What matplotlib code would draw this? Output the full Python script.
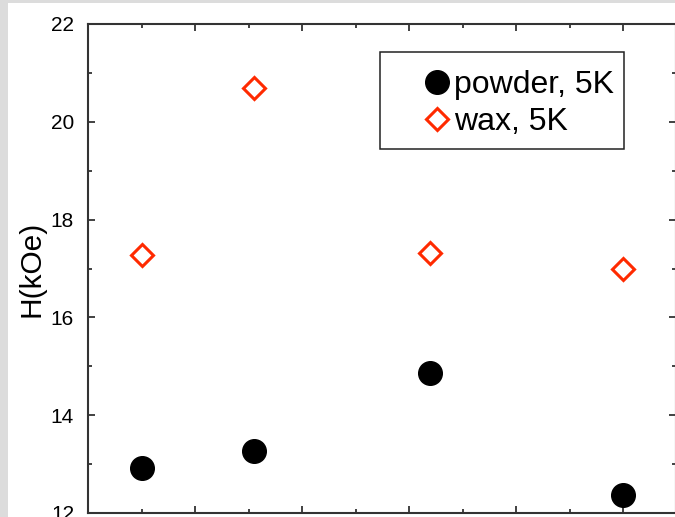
import matplotlib
matplotlib.use('Agg')
import matplotlib.pyplot as plt
from matplotlib.patches import Rectangle
from matplotlib.ticker import MultipleLocator

plt.rcParams['font.family'] = ['Liberation Sans', 'DejaVu Sans']

# sample position and coercive field (kOe) at 5K
sample = [0.5, 1.55, 3.2, 5.0]
powder_5k = [12.92, 13.27, 14.86, 12.37]
wax_5k = [17.28, 20.69, 17.32, 16.99]

fig = plt.figure(figsize=(6.75, 5.17), dpi=100)

# thin grey border along the left and top edges
fig.patches.append(Rectangle((0, 0), 8 / 675, 1, transform=fig.transFigure,
                             facecolor='#dcdcdc', edgecolor='none', zorder=0))
fig.patches.append(Rectangle((0, 1 - 3 / 517), 1, 3 / 517, transform=fig.transFigure,
                             facecolor='#dcdcdc', edgecolor='none', zorder=0))

ax = fig.add_axes([88 / 675, 4 / 517, 588 / 675, 489 / 517])

ax.plot(sample, powder_5k, 'o', color='black', ms=17, mec='black',
        label='powder, 5K', zorder=3)
ax.plot(sample, wax_5k, 'D', color='#ff2a00', ms=11, mew=2.2,
        mfc='white', mec='#ff2a00', label='wax, 5K', zorder=3)

ax.set_xlim(0, 5.495)
ax.set_ylim(12, 22)
ax.xaxis.set_major_locator(MultipleLocator(1))
ax.xaxis.set_minor_locator(MultipleLocator(0.5))
ax.yaxis.set_major_locator(MultipleLocator(2))
ax.yaxis.set_minor_locator(MultipleLocator(1))

for s in ax.spines.values():
    s.set_linewidth(1.5)
    s.set_color('#333333')

ax.tick_params(which='both', direction='in', top=True, right=True,
               color='#333333', width=1.3)
ax.tick_params(which='major', length=5, labelsize=15, pad=10)
ax.tick_params(which='minor', length=3)
ax.tick_params(axis='x', labelbottom=False)

ax.set_ylabel('H(kOe)', fontsize=21.5)
ax.yaxis.set_label_coords(-0.073, 0.5)

leg = ax.legend(loc='upper left', bbox_to_anchor=(0.571, 0.905), frameon=False,
                fontsize=23, borderpad=0, handlelength=0.8, handletextpad=0.16,
                labelspacing=0.22, borderaxespad=0, numpoints=1)
ax.add_patch(Rectangle((0.4966, 0.7444), 0.415, 0.1983, transform=ax.transAxes,
                       facecolor='white', edgecolor='#222222', lw=1.1, zorder=2))

fig.savefig('out.png', dpi=100)
